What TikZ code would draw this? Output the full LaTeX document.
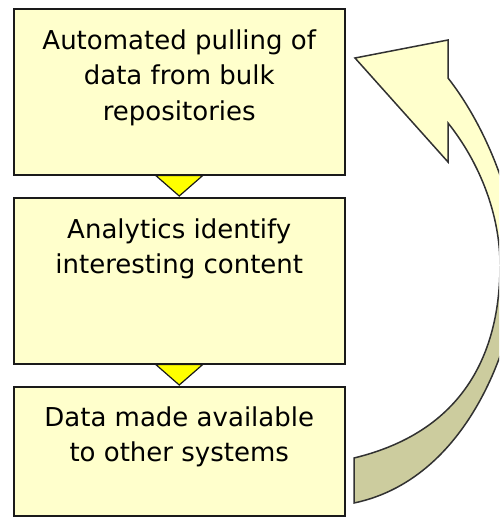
\documentclass[tikz,border=0pt]{standalone}
\usepackage{fontspec}
\setmainfont{DejaVu Sans}
\usetikzlibrary{calc}
\definecolor{boxfill}{HTML}{FFFFCC}
\definecolor{arrowlight}{HTML}{FFFFCC}
\definecolor{arrowdark}{HTML}{CCCC9E}
\definecolor{edgecol}{HTML}{1A1A1A}
\definecolor{trifill}{HTML}{FFFF00}
\begin{document}
\begin{tikzpicture}[x=1pt,y=-1pt,
  box/.style={draw=edgecol, fill=boxfill, line width=1.5pt, minimum width=331pt, inner sep=0pt, anchor=north west},
  lbl/.style={anchor=north, inner sep=0pt, align=center, font=\fontsize{26}{35.5}\selectfont},
  tri/.style={draw=edgecol, fill=trifill, line width=1.2pt, line join=miter},
  arrowline/.style={draw=edgecol!90, line width=1.5pt, line join=miter}]
\useasboundingbox (0,0) rectangle (499,517);
\begin{scope}
\clip (0,0) rectangle (499,517);
% curved return arrow
\begin{scope}
\clip (300,0) rectangle (530,265);
\fill[arrowlight] (354,503) -- (354,458) .. controls (470,430) and (500,345) .. (500,265) .. controls (500,215) and (480,163) .. (448,123) -- (448,162) -- (355,58) -- (448,40) -- (448,78) .. controls (488,129) and (518,208) .. (518,268) .. controls (518,328) and (474,478) .. (354,503) -- cycle;
\end{scope}
\begin{scope}
\clip (300,265) rectangle (530,517);
\fill[arrowdark] (354,503) -- (354,458) .. controls (470,430) and (500,345) .. (500,265) .. controls (500,215) and (480,163) .. (448,123) -- (448,162) -- (355,58) -- (448,40) -- (448,78) .. controls (488,129) and (518,208) .. (518,268) .. controls (518,328) and (474,478) .. (354,503) -- cycle;
\end{scope}
\draw[arrowline] (354,503) -- (354,458) .. controls (470,430) and (500,345) .. (500,265) .. controls (500,215) and (480,163) .. (448,123) -- (448,162) -- (355,58) -- (448,40) -- (448,78) .. controls (488,129) and (518,208) .. (518,268) .. controls (518,328) and (474,478) .. (354,503) -- cycle;
\end{scope}
% boxes
\node[box, minimum height=166pt] (b1) at (13,8) {};
\node[box, minimum height=166pt] (b2) at (13,197) {};
\node[box, minimum height=129pt] (b3) at (13,386) {};
% texts
\node[lbl] (t1) at ($(b1.north)+(0,21)$) {\rule{0pt}{20pt}Automated pulling of\\data from bulk\\repositories};
\node[lbl] (t2) at ($(b2.north)+(0,21)$) {\rule{0pt}{20pt}Analytics identify\\interesting content};
\node[lbl] (t3) at ($(b3.north)+(0,20)$) {\rule{0pt}{20pt}Data made available\\to other systems};
% connectors
\draw[tri] ($(b1.south)+(-23.5,0)$) -- ($(b1.south)+(23.5,0)$) -- ($(b2.north)+(0,-1)$) -- cycle;
\draw[tri] ($(b2.south)+(-23.5,0)$) -- ($(b2.south)+(23.5,0)$) -- ($(b3.north)+(0,-1)$) -- cycle;
\end{tikzpicture}
\end{document}
